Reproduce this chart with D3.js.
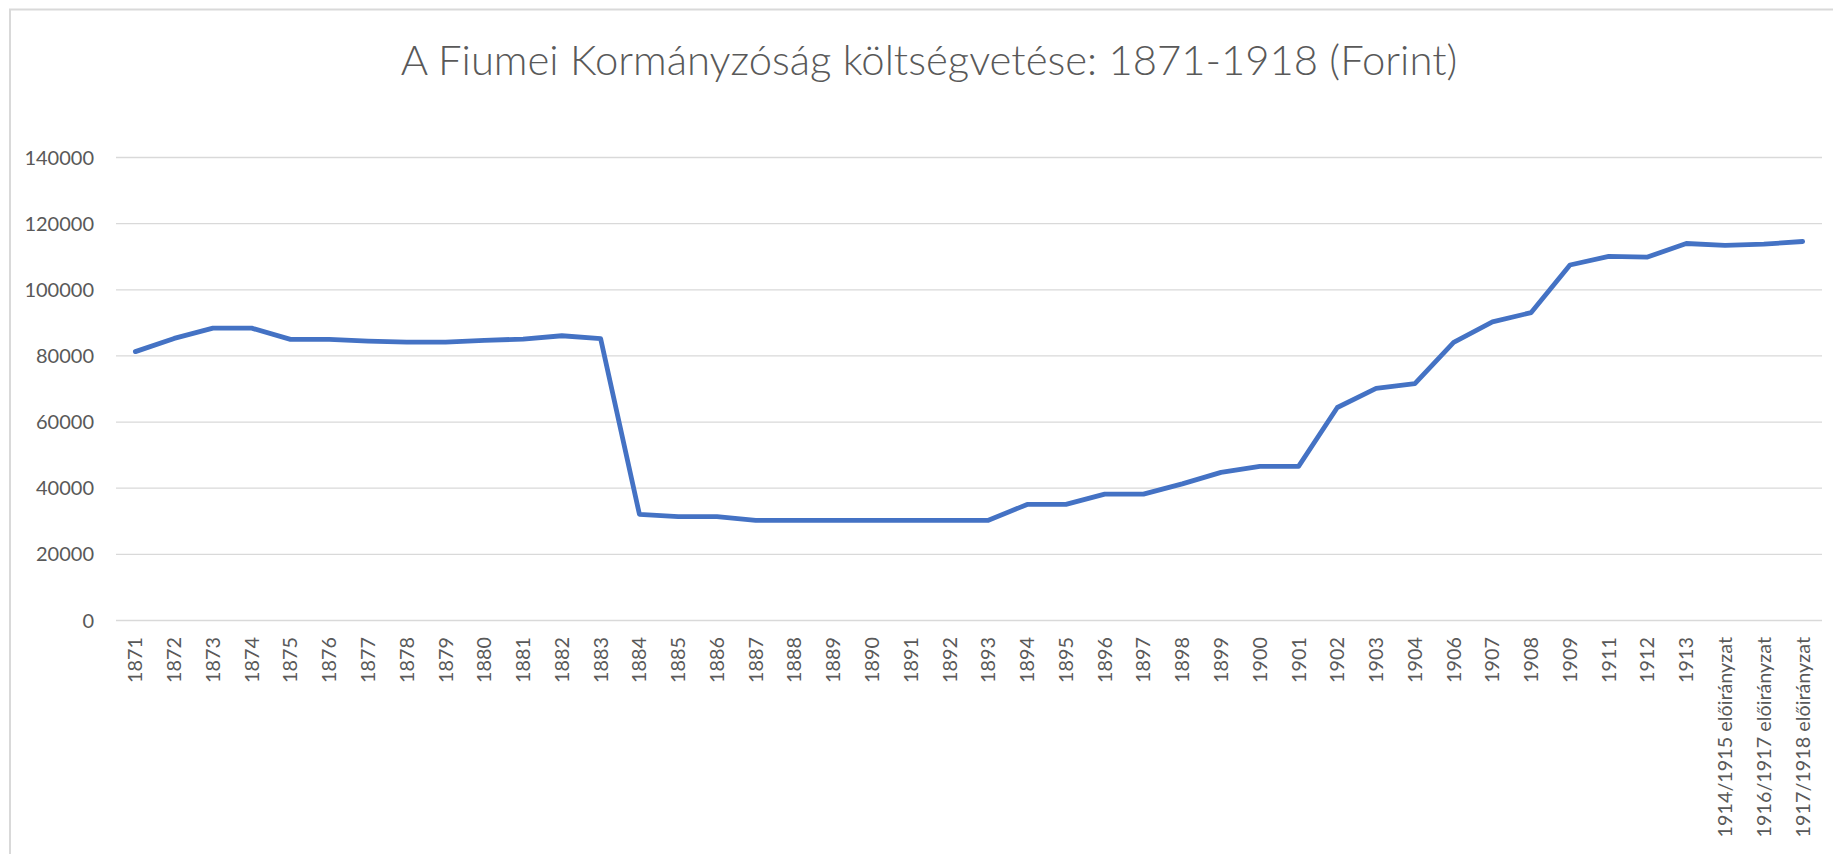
<!DOCTYPE html>
<html>
<head>
<meta charset="utf-8">
<script src="https://cdn.jsdelivr.net/npm/d3@7"></script>
<style>
  body { margin: 0; background: #fff; }
  svg { display: block; }
  text { font-family: Lato, "Open Sans", sans-serif; fill: #595959; }
</style>
</head>
<body>
<svg></svg>
<script>
var width = 1833;
var height = 854;

var titleText = "A Fiumei Kormányzóság költségvetése: 1871-1918 (Forint)";

var years = ["1871", "1872", "1873", "1874", "1875", "1876", "1877", "1878", "1879", "1880",
             "1881", "1882", "1883", "1884", "1885", "1886", "1887", "1888", "1889", "1890",
             "1891", "1892", "1893", "1894", "1895", "1896", "1897", "1898", "1899", "1900",
             "1901", "1902", "1903", "1904", "1906", "1907", "1908", "1909", "1911", "1912",
             "1913", "1914/1915 előirányzat", "1916/1917 előirányzat", "1917/1918 előirányzat"];

var budget = [81300, 85300, 88400, 88400, 85000, 85000, 84500, 84200, 84200, 84700,
              85100, 86100, 85200, 32100, 31400, 31400, 30300, 30300, 30300, 30300,
              30300, 30300, 30300, 35100, 35100, 38200, 38200, 41300, 44800, 46600,
              46600, 64400, 70200, 71600, 84100, 90300, 93100, 107500, 110100, 109900,
              114000, 113400, 113800, 114600];

var yTicks = [0, 20000, 40000, 60000, 80000, 100000, 120000, 140000];

var data = years.map((d, i) => ({year: d, value: budget[i]}));

var plot = {left: 116, right: 1822, top: 157.5, bottom: 620.5};

var svg = d3.select('svg')
  .attr('width', width)
  .attr('height', height);

// chart frame (only top and left edges fall inside the window)
svg.append('rect')
  .attr('x', 10)
  .attr('y', 9.5)
  .attr('width', width + 40)
  .attr('height', height + 40)
  .attr('fill', '#fff')
  .attr('stroke', '#d9d9d9')
  .attr('stroke-width', 2);

var x = d3.scalePoint()
  .domain(years)
  .range([plot.left, plot.right])
  .padding(0.5);

var y = d3.scaleLinear()
  .domain([0, 140000])
  .range([plot.bottom, plot.top]);

// gridlines
svg.append('g')
  .selectAll('line')
  .data(yTicks)
  .enter()
  .append('line')
    .attr('x1', plot.left)
    .attr('x2', plot.right)
    .attr('y1', d => y(d))
    .attr('y2', d => y(d))
    .attr('stroke', '#d9d9d9')
    .attr('stroke-width', 1.3);

// y axis labels
svg.append('g')
  .selectAll('text')
  .data(yTicks)
  .enter()
  .append('text')
    .attr('x', 94)
    .attr('y', d => y(d))
    .attr('dy', '0.35em')
    .attr('text-anchor', 'end')
    .attr('font-size', '20px')
    .text(d => d);

// x axis labels, rotated
svg.append('g')
  .selectAll('text')
  .data(years)
  .enter()
  .append('text')
    .attr('transform', d => 'translate(' + x(d) + ',637) rotate(-90)')
    .attr('dy', '0.35em')
    .attr('text-anchor', 'end')
    .attr('font-size', '19.8px')
    .text(d => d);

var line = d3.line()
  .x(d => x(d.year))
  .y(d => y(d.value));

svg.append('path')
  .datum(data)
  .attr('d', line)
  .attr('fill', 'none')
  .attr('stroke', '#4472c4')
  .attr('stroke-width', 4.8)
  .attr('stroke-linejoin', 'round')
  .attr('stroke-linecap', 'round');

// title, sized to the width it takes in the original
var title = svg.append('text')
  .attr('x', 929)
  .attr('y', 75)
  .attr('text-anchor', 'middle')
  .attr('font-weight', 300)
  .attr('font-size', '40px')
  .text(titleText);

var len = title.node().getComputedTextLength();
title.attr('font-size', (40 * 1057 / len) + 'px');
</script>
</body>
</html>
